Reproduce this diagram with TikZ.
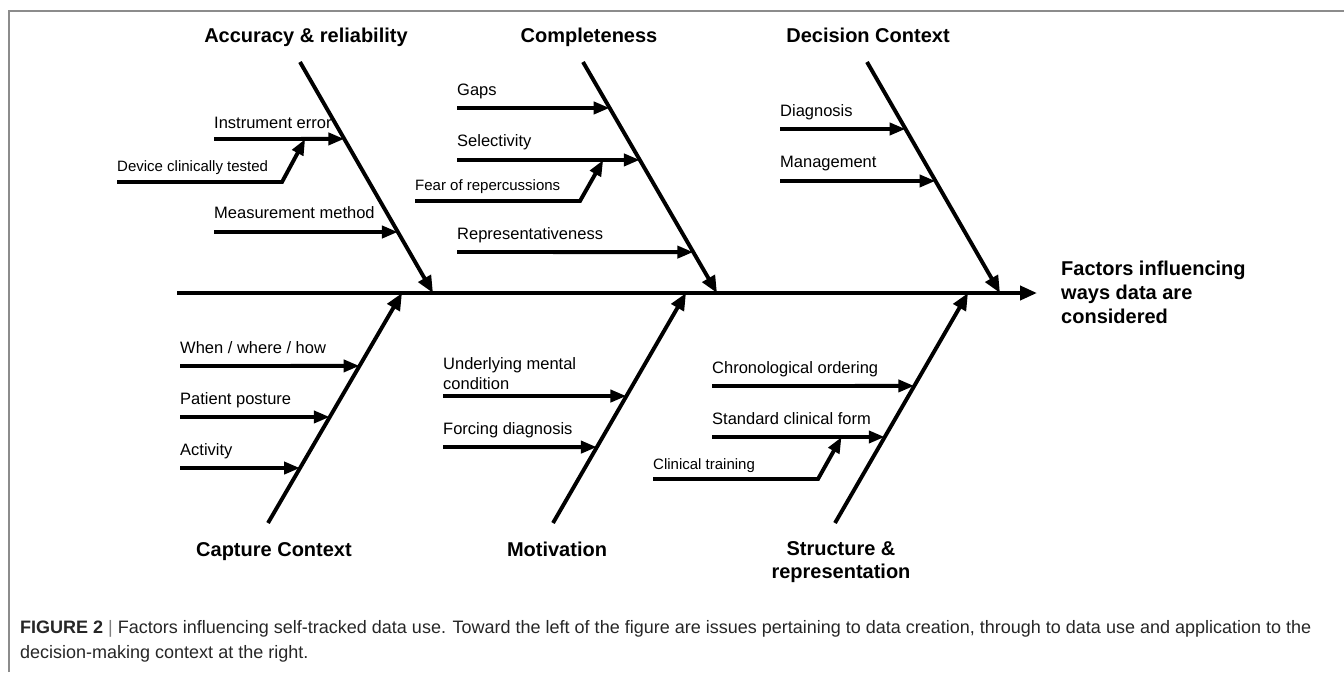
\documentclass[tikz,border=0pt]{standalone}
\usepackage{fontspec}
\setmainfont{Liberation Sans}
\usepackage{tikz}
\usetikzlibrary{arrows.meta}
\usetikzlibrary{positioning}
\usetikzlibrary{calc}
\tikzstyle{head}=[
        font=\fontsize{20}{23}\selectfont\bfseries,
        inner sep=0pt,
        anchor=base,
        align=center
]
\tikzstyle{cause}=[font=\fontsize{16.5}{20}\selectfont,inner sep=0pt,anchor=base west,align=left]
\tikzstyle{subcause}=[font=\fontsize{15}{18}\selectfont,inner sep=0pt,anchor=base west]
\tikzstyle{bone}=[-{Triangle[length=17pt,width=14pt]},line width=3.9pt]
\tikzstyle{twig}=[-{Triangle[length=16pt,width=12pt]},line width=3.9pt]
\tikzstyle{frame}=[draw=black!45,line width=1.5pt]

\begin{document}
\begin{tikzpicture}[x=1pt,y=-1pt]
\useasboundingbox (0,0) rectangle (1344,672);
\draw[frame] (9,672) -- (9,11) -- (1344,11);
%spine
\coordinate (tail) at (177,293);
\coordinate (head) at (1037,293);
\draw[bone] (tail) -- (head);
\node[head,anchor=base west,align=left] (effect) at (1061,323)
  {Factors influencing\\[1pt]ways data are\\[1pt]considered};
%bones
\coordinate (accT) at (300,62);  \coordinate (accB) at (433,293);
\coordinate (comT) at (583,62);  \coordinate (comB) at (717,293);
\coordinate (decT) at (867,62);  \coordinate (decB) at (1000,293);
\coordinate (capB) at (268,523); \coordinate (capT) at (402,293);
\coordinate (motB) at (553,523); \coordinate (motT) at (686,293);
\coordinate (strB) at (835,523); \coordinate (strT) at (968,293);
\draw[bone] (accT) -- (accB);
\draw[bone] (comT) -- (comB);
\draw[bone] (decT) -- (decB);
\draw[bone] (capB) -- (capT);
\draw[bone] (motB) -- (motT);
\draw[bone] (strB) -- (strT);
\node[head] (acc) at (306,42) {Accuracy \& reliability};
\node[head] (com) at (589,42) {Completeness};
\node[head] (dec) at (868,42) {Decision Context};
\node[head] (cap) at (274,556) {Capture Context};
\node[head] (mot) at (557,556) {Motivation};
\node[head] (str) at (841,578) {Structure \&\\representation};
%Accuracy & reliability
\coordinate (ie0) at (214,139);
\coordinate (ieE) at ($(accT)!0.333!(accB)$);
\node[cause] (ie) at (214,128) {Instrument error};
\draw[twig] (ie0) -- (ieE);
\coordinate (dev0) at (117,182);
\coordinate (dev1) at (282,182);
\node[subcause] (dev) at (117,171) {Device clinically tested};
\draw[twig] (dev0) -- (dev1) -- ($(ie0)!0.70!(ieE)$);
\coordinate (mm0) at (214,232);
\node[cause] (mm) at (214,218) {Measurement method};
\draw[twig] (mm0) -- ($(accT)!0.736!(accB)$);
%Completeness
\coordinate (gap0) at (457,108);
\node[cause] (gap) at (457,95) {Gaps};
\draw[twig] (gap0) -- ($(comT)!0.199!(comB)$);
\coordinate (sel0) at (457,160);
\coordinate (selE) at ($(comT)!0.424!(comB)$);
\node[cause] (sel) at (457,146.5) {Selectivity};
\draw[twig] (sel0) -- (selE);
\coordinate (fear0) at (415,201);
\coordinate (fear1) at (580,201);
\node[subcause] (fear) at (415,190) {Fear of repercussions};
\draw[twig] (fear0) -- (fear1) -- ($(sel0)!0.80!(selE)$);
\coordinate (rep0) at (457,252);
\node[cause] (rep) at (457,239) {Representativeness};
\draw[twig] (rep0) -- ($(comT)!0.823!(comB)$);
%Decision Context
\coordinate (dia0) at (780,129);
\node[cause] (dia) at (780,116) {Diagnosis};
\draw[twig] (dia0) -- ($(decT)!0.290!(decB)$);
\coordinate (man0) at (780,181);
\node[cause] (man) at (780,167) {Management};
\draw[twig] (man0) -- ($(decT)!0.515!(decB)$);
%Capture Context
\coordinate (when0) at (180,366);
\node[cause] (when) at (180,353) {When / where / how};
\draw[twig] (when0) -- ($(capB)!0.683!(capT)$);
\coordinate (pos0) at (180,417);
\node[cause] (pos) at (180,404) {Patient posture};
\draw[twig] (pos0) -- ($(capB)!0.461!(capT)$);
\coordinate (act0) at (180,468);
\node[cause] (act) at (180,455) {Activity};
\draw[twig] (act0) -- ($(capB)!0.239!(capT)$);
%Motivation
\coordinate (und0) at (443,396);
\node[cause] (und) at (443,389) {Underlying mental\\condition};
\draw[twig] (und0) -- ($(motB)!0.552!(motT)$);
\coordinate (for0) at (443,447);
\node[cause] (for) at (443,434) {Forcing diagnosis};
\draw[twig] (for0) -- ($(motB)!0.330!(motT)$);
%Structure & representation
\coordinate (chr0) at (712,386);
\node[cause] (chr) at (712,373) {Chronological ordering};
\draw[twig] (chr0) -- ($(strB)!0.596!(strT)$);
\coordinate (std0) at (712,437);
\coordinate (stdE) at ($(strB)!0.374!(strT)$);
\node[cause] (std) at (712,424) {Standard clinical form};
\draw[twig] (std0) -- (stdE);
\coordinate (tr0) at (653,479);
\coordinate (tr1) at (818,479);
\node[subcause] (tr) at (653,469) {Clinical training};
\draw[twig] (tr0) -- (tr1) -- ($(std0)!0.75!(stdE)$);
%caption
\node[anchor=base west,inner sep=0pt,align=left,text=black!85,font=\fontsize{18}{25}\selectfont] (caption) at (20,658)
  {\textbf{FIGURE 2} {\color{black!50}|} Factors influencing self-tracked data use. Toward the left of the figure are issues pertaining to data creation, through to data use and application to the\\decision-making context at the right.};
\end{tikzpicture}
\end{document}
